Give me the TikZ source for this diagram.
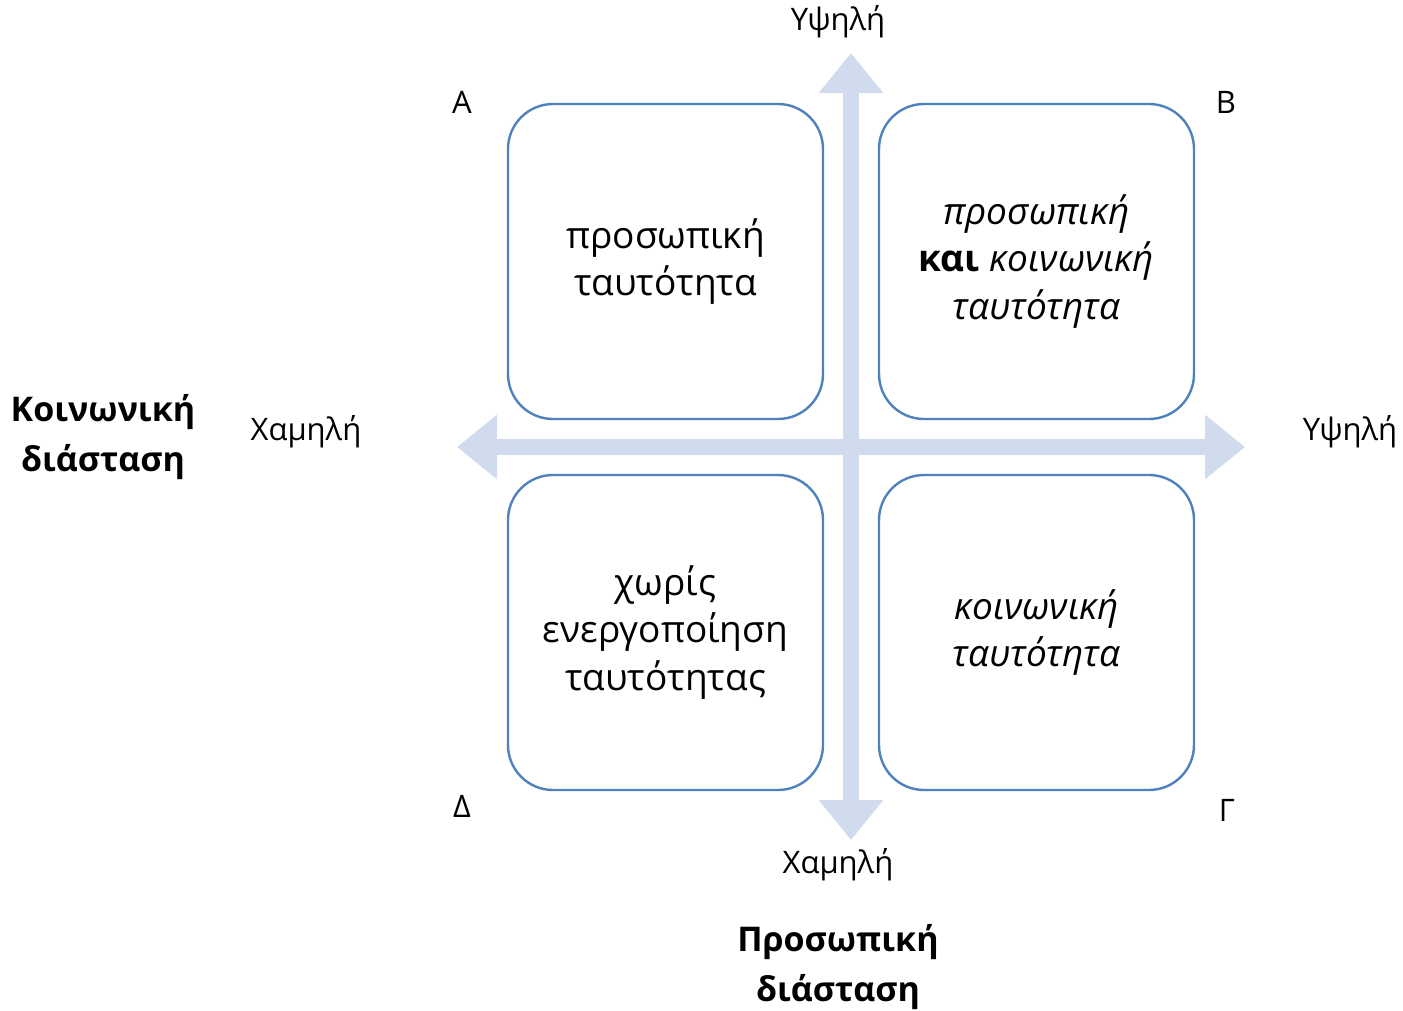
\documentclass[tikz,border=0pt]{standalone}
\usepackage{fontspec}
\setmainfont{Open Sans}
\usetikzlibrary{arrows.meta}
\definecolor{axisblue}{RGB}{208,220,238}
\definecolor{boxblue}{RGB}{79,129,189}
\tikzset{
  quad/.style={draw=boxblue, line width=2.4pt, rounded corners=45pt, fill=white,
    minimum width=315pt, minimum height=315pt, inner sep=0pt, align=center,
    font=\fontsize{37}{47.5}\selectfont},
  axis/.style={draw=axisblue, line width=16pt,
    {Triangle[width=62pt,length=40pt]}-{Triangle[width=62pt,length=40pt]}},
  lbl/.style={font=\fontsize{31}{36}\selectfont, inner sep=0pt},
  title/.style={font=\fontsize{34}{50}\selectfont\bfseries, align=center, inner sep=0pt}
}
\begin{document}
\begin{tikzpicture}[x=1pt,y=-1pt]
\useasboundingbox (0,0) rectangle (1403,1010);
\coordinate (L) at (457,447);
\coordinate (R) at (1245,447);
\coordinate (T) at (851,53);
\coordinate (B) at (851,840);
\draw[axis] (L) -- (R);
\draw[axis] (B) -- (T);
\node[quad] (q1) at (665.5,261.5) {προσωπική\\ταυτότητα};
\node[quad] (q2) at (1036.5,261.5) {\itshape προσωπική\\\textbf{και} \itshape κοινωνική\\\itshape ταυτότητα};
\node[quad] (q3) at (665.5,632.5) {χωρίς\\ενεργοποίηση\\ταυτότητας};
\node[quad] (q4) at (1036.5,632.5) {\itshape κοινωνική\\\itshape ταυτότητα};
\node[lbl] (hT) at (838,22) {Υψηλή};
\node[lbl] (hR) at (1350,432) {Υψηλή};
\node[lbl] (lL) at (306,432) {Χαμηλή};
\node[lbl] (lB) at (838,865) {Χαμηλή};
\node[lbl] (a) at (462,102) {Α};
\node[lbl] (b) at (1226,102) {Β};
\node[lbl] (d) at (462,806) {Δ};
\node[lbl] (g) at (1227,810) {Γ};
\node[title] (soc) at (103,437) {Κοινωνική\\διάσταση};
\node[title] (pers) at (838,967) {Προσωπική\\διάσταση};
\end{tikzpicture}
\end{document}
